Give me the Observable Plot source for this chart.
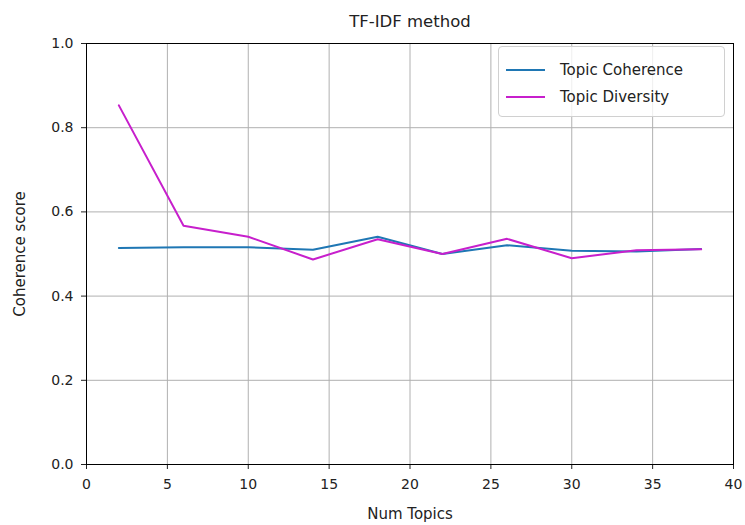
<!DOCTYPE html>
<html>
<head>
<meta charset="utf-8">
<script src="https://cdn.jsdelivr.net/npm/d3@7"></script>
<script src="https://cdn.jsdelivr.net/npm/@observablehq/plot@0.6"></script>
<style>
  html, body { margin: 0; padding: 0; background: #fff; }
  #wrap { position: relative; width: 745px; height: 525px; font-family: "DejaVu Sans", sans-serif; }
  #legend { position: absolute; left: 498px; top: 46px; width: 227px; height: 71px; border: 1px solid #d0d0d0; border-radius: 4px; background: rgba(255,255,255,0.8); box-sizing: border-box; }
  .item { position: absolute; left: 7px; display: flex; align-items: center; font-size: 15px; color: #222; }
  .swatch { width: 39px; height: 2px; margin-right: 15px; }
</style>
</head>
<body>
<div id="wrap"></div>
<script>
const numTopics = [2, 6, 10, 14, 18, 22, 26, 30, 34, 38];
const coherence = [0.514, 0.516, 0.516, 0.510, 0.541, 0.500, 0.521, 0.508, 0.506, 0.512];
const diversity = [0.853, 0.567, 0.541, 0.487, 0.535, 0.500, 0.536, 0.490, 0.509, 0.511];
const seriesNames = ["Topic Coherence", "Topic Diversity"];
const seriesColors = ["#1f77b4", "#c71fcc"];
const xTicks = [0, 5, 10, 15, 20, 25, 30, 35, 40];
const yTicks = [0, 0.2, 0.4, 0.6, 0.8, 1.0];
const titleText = "TF-IDF method";
const xLabel = "Num Topics";
const yLabel = "Coherence score";

const rows = [];
numTopics.forEach((n, i) => {
  rows.push({n, v: coherence[i], s: seriesNames[0]});
  rows.push({n, v: diversity[i], s: seriesNames[1]});
});

const chart = Plot.plot({
  width: 745,
  height: 525,
  marginLeft: 86,
  marginRight: 12,
  marginTop: 43,
  marginBottom: 61,
  style: {fontFamily: "DejaVu Sans, sans-serif", fontSize: "14px", color: "#222", background: "#fff"},
  x: {domain: [0, 40], ticks: xTicks, tickFormat: d3.format("d"), label: null, tickSize: 5, tickPadding: 10},
  y: {domain: [0, 1], ticks: yTicks, tickFormat: d3.format(".1f"), label: null, tickSize: 5, tickPadding: 8},
  color: {domain: seriesNames, range: seriesColors},
  marks: [
    Plot.gridX(xTicks, {stroke: "#b0b0b0", strokeOpacity: 1, strokeWidth: 1}),
    Plot.gridY(yTicks, {stroke: "#b0b0b0", strokeOpacity: 1, strokeWidth: 1}),
    Plot.line(rows, {x: "n", y: "v", z: "s", stroke: "s", strokeWidth: 2}),
    Plot.frame({stroke: "#000", strokeWidth: 1}),
    Plot.text([titleText], {frameAnchor: "top", dy: -28, fontSize: 16.5, fill: "#222"}),
    Plot.text([xLabel], {frameAnchor: "bottom", dy: 54, fontSize: 15, fill: "#222"}),
    Plot.text([yLabel], {frameAnchor: "left", dx: -66, rotate: -90, textAnchor: "middle", fontSize: 15, fill: "#222"})
  ]
});
const wrap = document.getElementById("wrap");
wrap.appendChild(chart);

const legend = document.createElement("div");
legend.id = "legend";
seriesNames.forEach((name, i) => {
  const item = document.createElement("div");
  item.className = "item";
  item.style.top = (i === 0 ? 14 : 41) + "px";
  const sw = document.createElement("span");
  sw.className = "swatch";
  sw.style.background = seriesColors[i];
  const t = document.createElement("span");
  t.textContent = name;
  item.appendChild(sw);
  item.appendChild(t);
  legend.appendChild(item);
});
wrap.appendChild(legend);
</script>
</body>
</html>
